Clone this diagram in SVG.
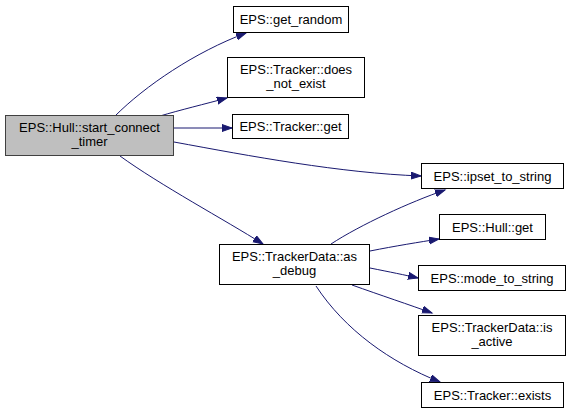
<svg xmlns="http://www.w3.org/2000/svg" width="571" height="413" viewBox="0 0 571 413">
<style>
.n rect{fill:#fff;stroke:#000;stroke-width:1}
.n text{font-family:"Liberation Sans",Arial,sans-serif;font-size:13px;fill:#000;text-anchor:middle}
#start rect{fill:#bfbfbf;stroke:#404040}
.e path{fill:none;stroke:#191970;stroke-width:1;marker-end:url(#ah)}
</style>
<defs>
<marker id="ah" markerUnits="userSpaceOnUse" markerWidth="12" markerHeight="10" refX="10" refY="4" orient="auto">
<polygon points="0,0.5 10,4 0,7.5" fill="#191970" stroke="#191970"/>
</marker>
</defs>
<rect width="571" height="413" fill="#fff"/>
<g id="edges" class="e">
<path d="M115,116 C145,86 195,52 246,33"/>
<path d="M160,116 C180,110 205,104 227,98"/>
<path d="M174,128 L232,128"/>
<path d="M174,142 C250,156 340,173 421,176"/>
<path d="M120,156 C160,185 225,220 263,244"/>
<path d="M331,244 C360,225 410,202 445,190"/>
<path d="M370,251 C395,246 420,242 439,239"/>
<path d="M370,268 C390,272 405,275 418,278"/>
<path d="M352,285 C380,295 410,305 432,313"/>
<path d="M316,286 C345,330 390,362 440,382"/>
</g>
<g id="start" class="n"><rect x="5.5" y="115.5" width="168" height="40"/><text x="89.5" y="132">EPS::Hull::start_connect</text><text x="89.5" y="146">_timer</text></g>
<g id="get_random" class="n"><rect x="233.5" y="6.5" width="115" height="26"/><text x="291" y="23.5">EPS::get_random</text></g>
<g id="does_not_exist" class="n"><rect x="227.5" y="57.5" width="137" height="40"/><text x="296" y="74">EPS::Tracker::does</text><text x="296" y="88">_not_exist</text></g>
<g id="tracker_get" class="n"><rect x="232.5" y="114.5" width="116" height="24"/><text x="290.5" y="131">EPS::Tracker::get</text></g>
<g id="as_debug" class="n"><rect x="219.5" y="244.5" width="150" height="40"/><text x="294.5" y="261">EPS::TrackerData::as</text><text x="294.5" y="275">_debug</text></g>
<g id="ipset_to_string" class="n"><rect x="421.5" y="163.5" width="142" height="25"/><text x="492.5" y="180.5">EPS::ipset_to_string</text></g>
<g id="hull_get" class="n"><rect x="439.5" y="214.5" width="106" height="25"/><text x="492.5" y="231.5">EPS::Hull::get</text></g>
<g id="mode_to_string" class="n"><rect x="418.5" y="265.5" width="147" height="25"/><text x="492" y="282.5">EPS::mode_to_string</text></g>
<g id="is_active" class="n"><rect x="418.5" y="315.5" width="147" height="40"/><text x="492" y="332">EPS::TrackerData::is</text><text x="492" y="346">_active</text></g>
<g id="exists" class="n"><rect x="421.5" y="382.5" width="142" height="25"/><text x="492.5" y="399.5">EPS::Tracker::exists</text></g>
</svg>
